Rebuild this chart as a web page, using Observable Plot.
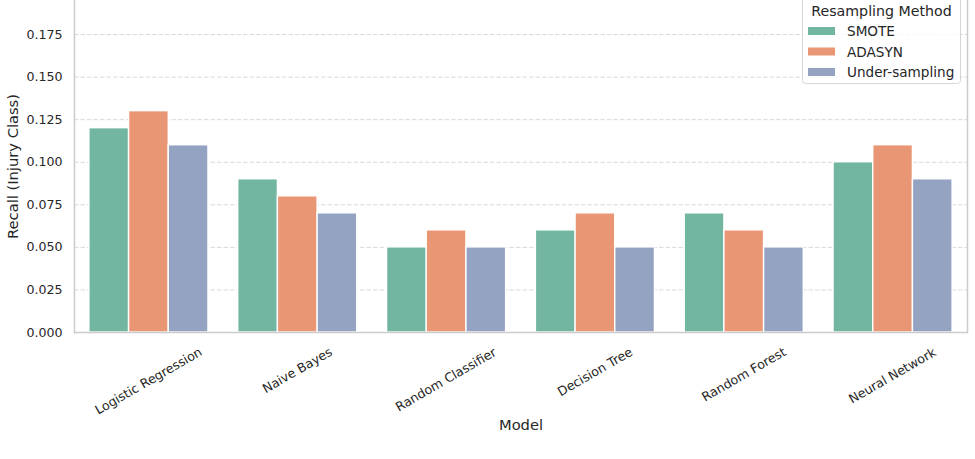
<!DOCTYPE html>
<html><head><meta charset="utf-8">
<script src="https://cdn.jsdelivr.net/npm/d3@7"></script>
<script src="https://cdn.jsdelivr.net/npm/@observablehq/plot@0.6"></script>
<style>
html,body{margin:0;padding:0;background:#fff;}
#wrap{position:relative;width:975px;height:459px;overflow:hidden;font-family:"DejaVu Sans",sans-serif;}
#legend{position:absolute;left:0;top:0;}
</style></head><body><div id="wrap"></div>
<script>
const models = ["Logistic Regression","Naive Bayes","Random Classifier","Decision Tree","Random Forest","Neural Network"];
const methods = ["SMOTE","ADASYN","Under-sampling"];
const smote = [0.12,0.09,0.05,0.06,0.07,0.10];
const adasyn = [0.13,0.08,0.06,0.07,0.06,0.11];
const undersampling = [0.11,0.07,0.05,0.05,0.05,0.09];
const colors = ["#72b6a1","#e99675","#95a3c3"];
const yTicks = [0,0.025,0.05,0.075,0.1,0.125,0.15,0.175];
const legendTitle = "Resampling Method";

const series = [smote, adasyn, undersampling];
const data = models.flatMap((m,i)=>series.map((s,j)=>({model:m, method:methods[j], value:s[i]})));

const W = 975, H = 459, ML = 74, MR = 8, MT = 0, MB = 127;
const plotW = W - ML - MR;
const step = plotW / (models.length - 0.2 + 2*0.1);
const bw = step * 0.8;
const outer = step * 0.1;
const spine = {stroke:"#cccccc", strokeWidth:1.5};

const chart = Plot.plot({
  width:W, height:H,
  marginTop:MT, marginLeft:ML, marginRight:MR, marginBottom:MB,
  style:{fontFamily:"DejaVu Sans, sans-serif", fontSize:"12.6px", color:"#262626", background:"white", overflow:"visible"},
  fx:{domain:models, paddingInner:0.2, paddingOuter:0.1, round:false, label:"Model"},
  x:{domain:methods, padding:0, round:false, axis:null},
  y:{domain:[0,0.195]},
  color:{domain:methods, range:colors},
  marks:[
    Plot.gridY(yTicks.slice(1), {facetAnchor:"left", insetLeft:-outer, insetRight:-(plotW - outer - bw),
      stroke:"#d9d9d9", strokeOpacity:1, strokeDasharray:"4.5,2", strokeWidth:1}),
    Plot.barY(data, {fx:"model", x:"method", y:"value", fill:"method", stroke:"white", strokeWidth:1.4}),
    Plot.ruleY([0], {facetAnchor:"left", insetLeft:-outer, insetRight:-(plotW - outer - bw), ...spine}),
    Plot.frame({facetAnchor:"left", anchor:"left", insetLeft:-outer, ...spine}),
    Plot.frame({facetAnchor:"right", anchor:"right", insetRight:-outer, ...spine}),
    Plot.axisY(yTicks, {tickFormat:d3.format(".3f"), tickSize:0, tickPadding:12 + outer,
      label:"Recall (Injury Class)", labelAnchor:"center", labelArrow:"none", labelOffset:67 + outer}),
    Plot.axisFx({anchor:"bottom", tickSize:0, tickRotate:-30, textAnchor:"middle", lineAnchor:"middle",
      label:"Model", labelAnchor:"center", labelArrow:"none", labelOffset:97})
  ]
});

const wrap = document.getElementById("wrap");
wrap.appendChild(chart);
const svg = d3.select(chart);

svg.selectAll('g[aria-label="y-axis label"] text, g[aria-label="fx-axis label"] text')
  .attr("font-size", "14.7px").attr("fill", "#262626");

const fx = chart.scale("fx");
const svgRect = chart.getBoundingClientRect();
svg.selectAll('g[aria-label="fx-axis tick label"] text').each(function(){
  const name = this.textContent;
  const r = this.getBoundingClientRect();
  const cx = fx.apply(name) + fx.bandwidth/2;
  const dx = cx - (r.left - svgRect.left + r.width/2);
  const dy = 344 - (r.top - svgRect.top);
  if (isFinite(dx) && isFinite(dy)) {
    const old = this.getAttribute("transform") || "";
    this.setAttribute("transform", `translate(${dx},${dy}) ${old}`);
  }
});

const lg = d3.select(wrap).append("svg").attr("id","legend")
  .attr("width",W).attr("height",H)
  .style("font-family","DejaVu Sans, sans-serif");
lg.append("rect").attr("x",802.5).attr("y",-6).attr("width",158).attr("height",89.5)
  .attr("rx",3).attr("fill","white").attr("fill-opacity",0.8)
  .attr("stroke","#d6d6d6").attr("stroke-width",1);
lg.append("text").attr("x",881.5).attr("y",15.5).attr("text-anchor","middle")
  .attr("font-size","14.2px").attr("fill","#262626").text(legendTitle);
methods.forEach((m,i)=>{
  lg.append("rect").attr("x",808).attr("y",27+20.5*i).attr("width",27).attr("height",8)
    .attr("fill",colors[i]);
  lg.append("text").attr("x",847).attr("y",36+20.5*i).attr("font-size","13.6px")
    .attr("fill","#262626").text(m);
});
</script>
</body></html>
